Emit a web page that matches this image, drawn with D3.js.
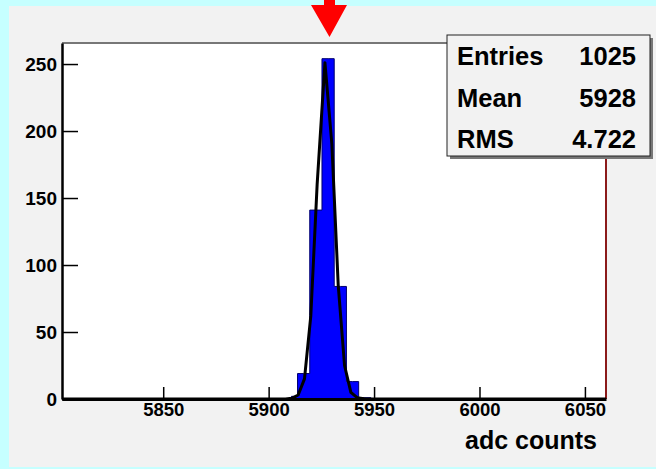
<!DOCTYPE html>
<html>
<head>
<meta charset="utf-8">
<script src="https://cdn.jsdelivr.net/npm/d3@7"></script>
<style>
  body { margin: 0; background: #c6ffff; }
  text { font-family: "Liberation Sans", Arial, sans-serif; font-weight: bold; }
</style>
</head>
<body>
<div class="canvas"></div>
<script>
// histogram bins (lower edge, adc counts) and contents
const binWidth = 2.9;
const binEdges = [5908.0, 5910.8, 5913.7, 5916.6, 5919.5, 5922.4, 5925.3, 5928.2, 5931.1, 5934.0, 5936.9, 5939.8, 5942.7, 5945.6];
const binCounts = [0, 2, 19, 19, 141, 141, 254, 254, 84, 84, 13, 13, 1, 1];

// gaussian fit curve
const fitX = [5802, 5908, 5911, 5914, 5917, 5920, 5923, 5926.7, 5930, 5933, 5936, 5939, 5942, 5946, 6060];
const fitY = [0, 0, 0.5, 3, 15, 62, 160, 251, 190, 85, 25, 5, 1, 0, 0];

const xTicks = [5850, 5900, 5950, 6000, 6050];
const yTicks = [0, 50, 100, 150, 200, 250];

const statNames = ['Entries', 'Mean', 'RMS'];
const statValues = ['1025', '5928', '4.722'];

const W = 656, H = 469;
const svg = d3.select('.canvas')
    .append('svg')
    .attr('width', W)
    .attr('height', H)
    .style('display', 'block');

// grey pad
svg.append('rect')
    .attr('x', 9).attr('y', 6)
    .attr('width', W - 9).attr('height', 461)
    .attr('fill', '#f2f2f2');

const margins = {top: 43, left: 62, right: 50, bottom: 70};
const graphWidth = W - margins.left - margins.right;
const graphHeight = H - margins.top - margins.bottom;

const graph = svg.append('g')
    .attr('transform', 'translate(' + margins.left + ',' + margins.top + ')');

const x = d3.scaleLinear().domain([5802, 6060]).range([0, graphWidth]);
const y = d3.scaleLinear().domain([0, 265.7]).range([graphHeight, 0]);

// frame
graph.append('rect')
    .attr('width', graphWidth).attr('height', graphHeight)
    .attr('fill', '#fff');
graph.append('line')
    .attr('x1', 0).attr('x2', graphWidth).attr('y1', 0).attr('y2', 0)
    .attr('stroke', '#777').attr('stroke-width', 2);
graph.append('line')
    .attr('x1', graphWidth).attr('x2', graphWidth).attr('y1', 0).attr('y2', graphHeight)
    .attr('stroke', '#8b1a1a').attr('stroke-width', 2);

// histogram outline
const histPts = [[binEdges[0], 0]];
binEdges.forEach((e, i) => {
    histPts.push([e, binCounts[i]]);
    histPts.push([e + binWidth, binCounts[i]]);
});
histPts.push([binEdges[binEdges.length - 1] + binWidth, 0]);

const line = d3.line().x(d => x(d[0])).y(d => y(d[1]));

graph.append('path')
    .attr('d', line(histPts) + 'Z')
    .attr('fill', '#0000ff')
    .attr('stroke', '#00006e')
    .attr('stroke-width', 1);

// axes
const xAxisGroup = graph.append('g').attr('transform', 'translate(0,' + graphHeight + ')');
const yAxisGroup = graph.append('g');

const xMinor = d3.range(5810, 6060, 10).filter(v => v % 50 !== 0);
const yMinor = d3.range(10, 266, 10).filter(v => v % 50 !== 0);

xAxisGroup.append('g').call(d3.axisBottom(x).tickValues(xMinor).tickFormat('').tickSize(-6).tickSizeOuter(0));
xAxisGroup.call(d3.axisBottom(x).tickValues(xTicks).tickFormat(d3.format('d')).tickSize(-12).tickSizeOuter(0).tickPadding(4));
yAxisGroup.append('g').call(d3.axisLeft(y).tickValues(yMinor).tickFormat('').tickSize(-9).tickSizeOuter(0));
yAxisGroup.call(d3.axisLeft(y).tickValues(yTicks).tickFormat(d3.format('d')).tickSize(-16).tickSizeOuter(0).tickPadding(5));

graph.selectAll('.tick line').attr('stroke', '#000').attr('stroke-width', 1.5);
xAxisGroup.selectAll('.domain').attr('stroke', '#000').attr('stroke-width', 3);
yAxisGroup.selectAll('.domain').attr('stroke', '#000').attr('stroke-width', 2.5);
xAxisGroup.selectAll('text').attr('font-size', 18.5).attr('fill', '#000');
yAxisGroup.selectAll('text').attr('font-size', 19).attr('fill', '#000');

// fit curve
graph.append('path')
    .attr('d', line(fitX.map((v, i) => [v, fitY[i]])))
    .attr('fill', 'none')
    .attr('stroke', '#000')
    .attr('stroke-width', 3)
    .attr('stroke-linejoin', 'round');

// axis title
svg.append('text')
    .attr('x', 597).attr('y', 449)
    .attr('text-anchor', 'end')
    .attr('font-size', 25)
    .attr('fill', '#000')
    .text('adc counts');

// stats box
const box = svg.append('g').attr('transform', 'translate(447,35)');
box.append('rect')
    .attr('x', 3).attr('y', 3).attr('width', 203).attr('height', 121)
    .attr('fill', '#777');
box.append('rect')
    .attr('width', 203).attr('height', 121)
    .attr('fill', '#f2f2f2')
    .attr('stroke', '#222').attr('stroke-width', 1);

statNames.forEach((n, i) => {
    box.append('text')
        .attr('x', 10).attr('y', 30 + i * 41.5)
        .attr('font-size', 25.5).attr('fill', '#000')
        .text(n);
    box.append('text')
        .attr('x', 189).attr('y', 30 + i * 41.5)
        .attr('text-anchor', 'end')
        .attr('font-size', 25.5).attr('fill', '#000')
        .text(statValues[i]);
});

// red arrow marker at the top
svg.append('path')
    .attr('d', 'M324,0 L335,0 L335,5 L347,5 L329.5,37 L311,5 L324,5 Z')
    .attr('fill', '#ff0000');
</script>
</body>
</html>
